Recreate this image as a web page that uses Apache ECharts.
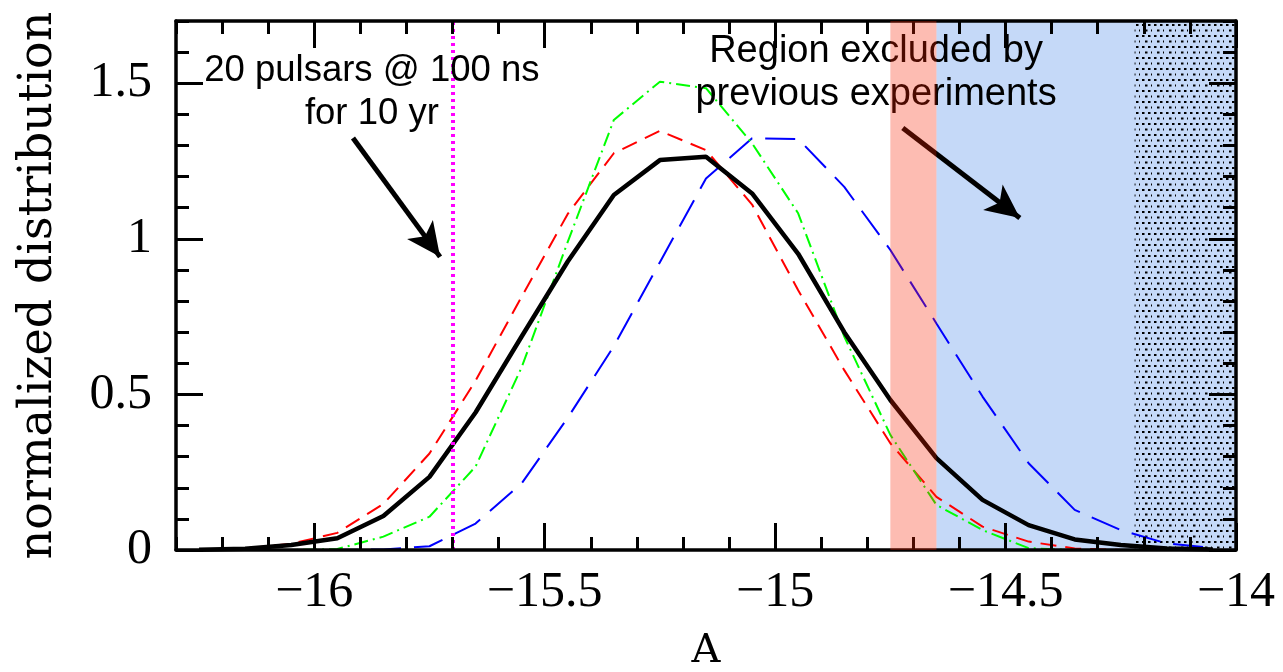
<!DOCTYPE html>
<html><head><meta charset="utf-8">
<script src="https://cdn.jsdelivr.net/npm/echarts@6/dist/echarts.min.js"></script>
<style>html,body{margin:0;padding:0;background:#fff}#c{width:1283px;height:672px}</style>
</head><body><div id="c"></div>
<script>
// ---- data (bin centres of log10 amplitude A) ----
const xCenters = [-16.25,-16.15,-16.05,-15.95,-15.85,-15.75,-15.65,-15.55,-15.45,-15.35,-15.25,-15.15,-15.05,-14.95,-14.85,-14.75,-14.65,-14.55,-14.45,-14.35,-14.25,-14.15,-14.05];
const blackVals = [0.001,0.004,0.016,0.038,0.109,0.235,0.442,0.686,0.927,1.141,1.253,1.264,1.146,0.952,0.700,0.482,0.295,0.161,0.080,0.034,0.016,0.005,0.002];
const redVals   = [0.000,0.005,0.020,0.055,0.148,0.310,0.544,0.814,1.080,1.275,1.347,1.285,1.110,0.835,0.578,0.343,0.171,0.075,0.027,0.005,0.000,0.000,0.000];
const greenVals = [0,0,0,0.003,0.043,0.107,0.268,0.587,0.990,1.382,1.505,1.484,1.307,1.082,0.686,0.370,0.145,0.064,0.006,0,0,0,0];
const blueVals  = [0,0,0,0,0.002,0.012,0.085,0.214,0.425,0.655,0.925,1.194,1.323,1.321,1.167,0.964,0.728,0.493,0.279,0.129,0.064,0.021,0.007];

// ---- axes / tick labels ----
const xMajor = [-16, -15.5, -15, -14.5, -14];
const yMajor = [0, 0.5, 1, 1.5];
const xMin = -16.3, xMax = -14, yMin = 0, yMax = 1.7;
const xMinor = []; for (let k = -163; k <= -140; k++) xMinor.push(k / 10);
const yMinor = []; for (let k = 0; k <= 17; k++) yMinor.push(k / 10);

// ---- annotations (data coordinates) ----
const limitLine = -15.7;
const redBand = [-14.75, -14.65];
const blueBand = [-14.65, -14];
const dotBand = [-14.22, -14];
const arrow1 = [[-15.916, 1.324], [-15.727, 0.942]];
const arrow2 = [[-14.723, 1.356], [-14.469, 1.067]];
const text1 = {pos: [-15.875, 1.472], text: '20 pulsars @ 100 ns\nfor 10 yr'};
const text2 = {pos: [-14.781, 1.534], text: 'Region excluded by\nprevious experiments'};

const pair = (xs, ys) => xs.map((x, i) => [x, ys[i]]);

// dotted pattern
const pc = document.createElement('canvas');
pc.width = 12; pc.height = 11;
const g = pc.getContext('2d');
g.fillStyle = '#000';
[[2,2],[8,2],[5,7.5],[11,7.5]].forEach(p => { g.fillRect(p[0], p[1], 2.5, 2); });

const tickFont = {fontFamily: 'Liberation Serif', fontSize: 50, color: '#000'};
const minus = v => String(v).replace('-', '\u2212');

function xAxisDef(pos, major, withLabel) {
  return {
    type: 'value', position: pos, min: xMin, max: xMax, z: 3,
    axisLine: {show: major, onZero: false, lineStyle: {color: '#000', width: 3.5}},
    axisTick: {show: true, inside: true, length: major ? 27 : 13, customValues: major ? xMajor : xMinor,
               lineStyle: {color: '#000', width: 3}},
    axisLabel: withLabel ? Object.assign({show: true, customValues: xMajor, margin: 18, formatter: minus}, tickFont) : {show: false},
    splitLine: {show: false}, minorTick: {show: false}
  };
}
function yAxisDef(pos, major, withLabel) {
  return {
    type: 'value', position: pos, min: yMin, max: yMax, z: 3,
    axisLine: {show: major, onZero: false, lineStyle: {color: '#000', width: 3.5}},
    axisTick: {show: true, inside: true, length: major ? 27 : 13, customValues: major ? yMajor : yMinor,
               lineStyle: {color: '#000', width: 3}},
    axisLabel: withLabel ? Object.assign({show: true, customValues: yMajor, margin: 24}, tickFont) : {show: false},
    splitLine: {show: false}, minorTick: {show: false}
  };
}

const xAxes = [xAxisDef('bottom', true, true), xAxisDef('bottom', false, false), xAxisDef('top', true, false), xAxisDef('top', false, false)];
Object.assign(xAxes[0], {name: 'A', nameLocation: 'middle', nameGap: 82,
  nameTextStyle: {fontFamily: 'DejaVu Serif', fontSize: 40, color: '#000'}});
const yAxes = [yAxisDef('left', true, true), yAxisDef('left', false, false), yAxisDef('right', true, false), yAxisDef('right', false, false)];
Object.assign(yAxes[0], {name: 'normalized distribution', nameLocation: 'middle', nameGap: 114, nameRotate: 90,
  nameTextStyle: {fontFamily: 'DejaVu Serif', fontSize: 46, color: '#000'}});

const chart = echarts.init(document.getElementById('c'), null, {renderer: 'canvas'});
chart.setOption({
  animation: false,
  backgroundColor: '#fff',
  grid: {left: 176, right: 47, top: 21, bottom: 122, containLabel: false, outerBoundsMode: 'none'},
  xAxis: xAxes,
  yAxis: yAxes,
  series: [
    {type: 'line', name: 'blue', data: pair(xCenters, blueVals), symbol: 'none', z: 2,
     lineStyle: {color: '#0000ff', width: 2, type: [30, 13]},
     markArea: {silent: true, z: 1, label: {show: false},
       data: [
         [{xAxis: blueBand[0], itemStyle: {color: '#c5d9f8'}}, {xAxis: blueBand[1]}],
         [{xAxis: dotBand[0], itemStyle: {color: {image: pc, repeat: 'repeat'}}}, {xAxis: dotBand[1]}]
       ]}},
    {type: 'line', name: 'red', data: pair(xCenters, redVals), symbol: 'none', z: 2,
     lineStyle: {color: '#ff0000', width: 2, type: [16, 9]},
     markArea: {silent: true, z: 6, label: {show: false}, itemStyle: {color: 'rgba(248,32,0,0.3)'},
       data: [[{xAxis: redBand[0]}, {xAxis: redBand[1]}]]}},
    {type: 'line', name: 'green', data: pair(xCenters, greenVals), symbol: 'none', z: 2,
     lineStyle: {color: '#00ff00', width: 2, type: [14, 5, 2, 5]},
     markLine: {silent: true, z: 3, symbol: 'none', label: {show: false},
       lineStyle: {color: '#ff00ff', width: 4, type: [3, 4]},
       data: [{xAxis: limitLine}]}},
    {type: 'line', name: 'black', data: pair(xCenters, blackVals), symbol: 'none', z: 2,
     lineStyle: {color: '#000', width: 4.5, type: 'solid'},
     markLine: {silent: true, z: 4, symbol: ['none', 'arrow'], symbolSize: [24, 34], label: {show: false},
       lineStyle: {color: '#000', width: 5, type: 'solid'},
       data: [[{coord: arrow1[0]}, {coord: arrow1[1]}], [{coord: arrow2[0]}, {coord: arrow2[1]}]]},
     markPoint: {silent: true, z: 4, symbol: 'circle', symbolSize: 1, itemStyle: {color: 'rgba(0,0,0,0)'},
       label: {show: true, position: 'inside', color: '#000', fontFamily: 'Liberation Sans', fontSize: 37,
               lineHeight: 43, align: 'center', verticalAlign: 'middle'},
       data: [
         {coord: text1.pos, label: {formatter: text1.text, fontSize: 36.5}},
         {coord: text2.pos, label: {formatter: text2.text, fontSize: 38}}
       ]}}
  ]
});
</script></body></html>
